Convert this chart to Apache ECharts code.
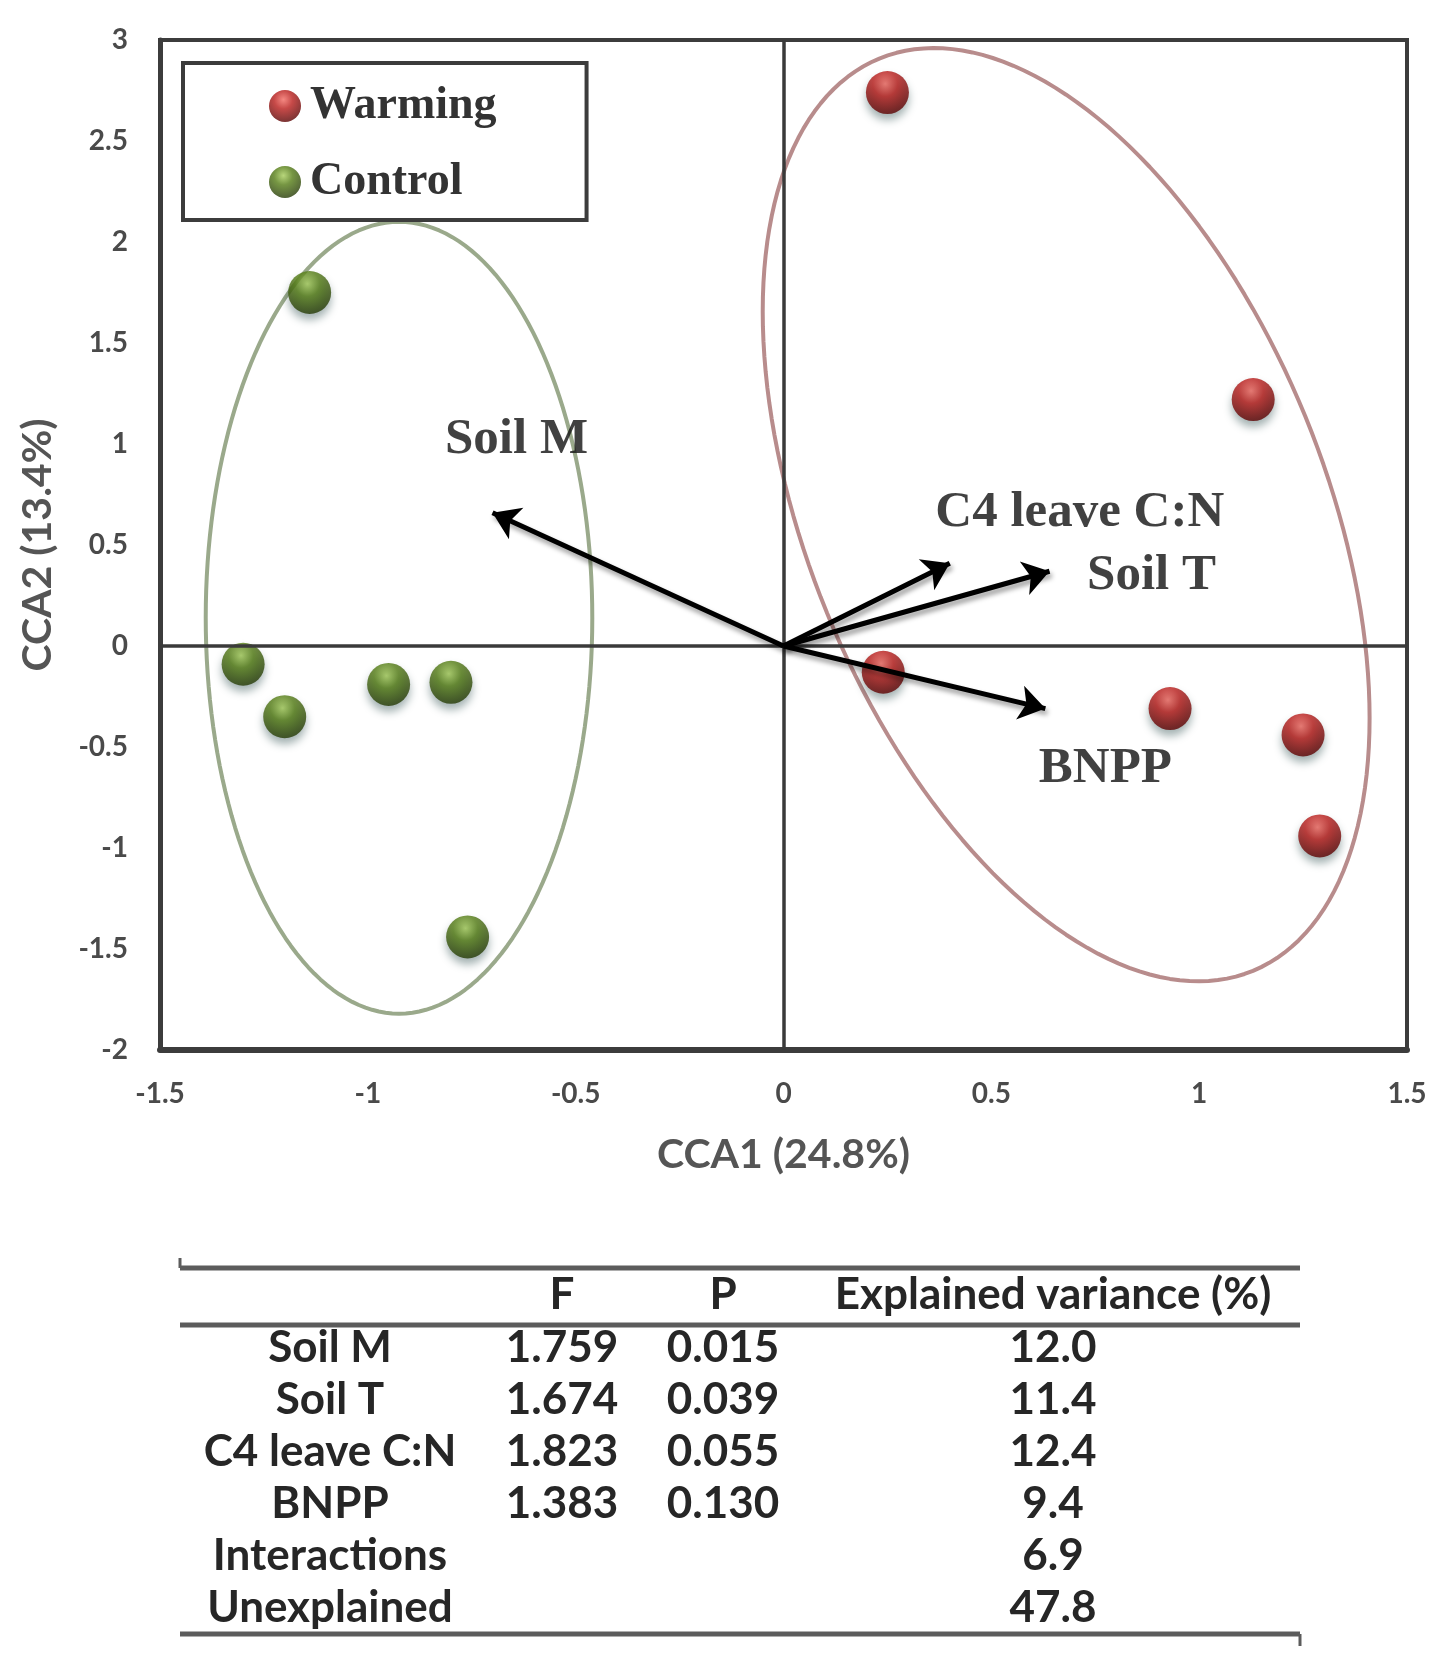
<!DOCTYPE html>
<html>
<head>
<meta charset="utf-8">
<title>CCA ordination</title>
<script src="https://cdn.jsdelivr.net/npm/echarts@6/dist/echarts.min.js"></script>
<style>
  html, body { margin: 0; padding: 0; background: #fff; }
  #main { width: 1450px; height: 1665px; }
</style>
</head>
<body>
<div id="main"></div>
<script>
// sample scores (CCA1, CCA2)
var warming = [[0.25, 2.74], [1.13, 1.22], [0.24, -0.13], [0.93, -0.31], [1.25, -0.44], [1.29, -0.94]];
var control = [[-1.14, 1.75], [-1.30, -0.09], [-1.20, -0.35], [-0.95, -0.19], [-0.80, -0.18], [-0.76, -1.44]];

// environmental vectors
var envNames = ['Soil M', 'C4 leave C:N', 'Soil T', 'BNPP'];
var envX = [-0.70, 0.40, 0.64, 0.63];
var envY = [0.66, 0.41, 0.37, -0.31];

// group ellipses: centre x, centre y, half width, half height, phase
var ellControl = [-0.925, 0.14, 0.465, 1.96, Math.PI / 2];
var ellWarming = [0.68, 0.65, 0.73, 2.31, 1.12];

// table under the plot
var tableHead = ['', 'F', 'P', 'Explained variance (%)'];
var tableNames = ['Soil M', 'Soil T', 'C4 leave C:N', 'BNPP', 'Interactions', 'Unexplained'];
var tableF = ['1.759', '1.674', '1.823', '1.383', '', ''];
var tableP = ['0.015', '0.039', '0.055', '0.130', '', ''];
var tableVar = ['12.0', '11.4', '12.4', '9.4', '6.9', '47.8'];

function ellipse(p) {
    var pts = [];
    for (var i = 0; i <= 180; i++) {
        var t = i / 180 * Math.PI * 2;
        pts.push([p[0] + p[2] * Math.cos(t), p[1] - p[3] * Math.cos(t + p[4])]);
    }
    return pts;
}

function ball(light, mid, dark) {
    return new echarts.graphic.RadialGradient(0.45, 0.3, 0.72, [
        { offset: 0, color: light },
        { offset: 0.4, color: mid },
        { offset: 1, color: dark }
    ]);
}

// label placement next to each arrow tip (px)
var labelOffset = { 'Soil M': [24, -73], 'C4 leave C:N': [130, -50], 'Soil T': [102, 5], 'BNPP': [60, 60] };

var vecData = envNames.map(function (n, i) {
    return { name: n, value: [envX[i], envY[i]], label: { offset: labelOffset[n] } };
});
var vecLines = envNames.map(function (n, i) {
    return [{ coord: [0, 0] }, { coord: [envX[i], envY[i]] }];
});

var tickFont = { fontFamily: 'Lato', fontWeight: 'bold', fontSize: 28, color: '#4a4a4a' };
var nameFont = { fontFamily: 'Lato', fontWeight: 'bold', fontSize: 41, color: '#555' };

// table graphics
var colX = [330, 562, 723, 1053];
var headY = 1295, rowY0 = 1348, rowStep = 52;
var tFont = 'bold 44px Lato';
var graphics = [];
function hline(y) {
    graphics.push({ type: 'line', shape: { x1: 180, y1: y, x2: 1300, y2: y }, style: { stroke: '#5c5c5c', lineWidth: 5 } });
}
hline(1268); hline(1325); hline(1634);
graphics.push({ type: 'line', shape: { x1: 180, y1: 1258, x2: 180, y2: 1268 }, style: { stroke: '#5c5c5c', lineWidth: 3 } });
graphics.push({ type: 'line', shape: { x1: 1300, y1: 1634, x2: 1300, y2: 1646 }, style: { stroke: '#5c5c5c', lineWidth: 3 } });
tableHead.forEach(function (h, j) {
    graphics.push({ type: 'text', x: colX[j], y: headY, style: { text: h, font: tFont, fill: '#262626', align: 'center', verticalAlign: 'middle' } });
});
tableNames.forEach(function (n, i) {
    var y = rowY0 + i * rowStep;
    [n, tableF[i], tableP[i], tableVar[i]].forEach(function (v, j) {
        graphics.push({ type: 'text', x: colX[j], y: y, style: { text: v, font: tFont, fill: '#262626', align: 'center', verticalAlign: 'middle' } });
    });
});

var chart = echarts.init(document.getElementById('main'));
chart.setOption({
    animation: false,
    backgroundColor: '#fff',
    grid: { left: 160, right: 43, top: 40, height: 1010, show: true, borderColor: '#3c3c3c', borderWidth: 4 },
    legend: {
        data: ['Warming', 'Control'],
        orient: 'vertical',
        left: 183, top: 63,
        padding: [19, 90, 14, 86],
        itemGap: 28,
        itemWidth: 32, itemHeight: 32,
        icon: 'circle',
        borderColor: '#3c3c3c', borderWidth: 4,
        backgroundColor: '#fff',
        textStyle: { fontFamily: 'Liberation Serif', fontWeight: 'bold', fontSize: 46, color: '#333', lineHeight: 48, padding: [0, 0, 0, 4] }
    },
    xAxis: {
        type: 'value', min: -1.5, max: 1.5, interval: 0.5,
        name: 'CCA1 (24.8%)', nameLocation: 'middle', nameGap: 84, nameTextStyle: nameFont,
        axisLine: { show: true, onZero: false, lineStyle: { color: '#3c3c3c', width: 6 } },
        axisTick: { show: false }, splitLine: { show: false },
        axisLabel: Object.assign({ margin: 30 }, tickFont)
    },
    yAxis: {
        type: 'value', min: -2, max: 3, interval: 0.5,
        name: 'CCA2 (13.4%)', nameLocation: 'middle', nameGap: 102, nameTextStyle: nameFont,
        axisLine: { show: true, onZero: false, lineStyle: { color: '#3c3c3c', width: 5 } },
        axisTick: { show: false }, splitLine: { show: false },
        axisLabel: Object.assign({ margin: 32 }, tickFont)
    },
    graphic: graphics,
    series: [
        {
            name: 'ellipseControl', type: 'line', data: ellipse(ellControl), showSymbol: false, silent: true, z: 2,
            lineStyle: { color: '#9aa98b', width: 4 },
            markLine: {
                silent: true, symbol: 'none', label: { show: false },
                lineStyle: { color: '#3a3a3a', width: 3.5, type: 'solid' },
                data: [{ xAxis: 0 }, { yAxis: 0 }]
            }
        },
        {
            name: 'ellipseWarming', type: 'line', data: ellipse(ellWarming), showSymbol: false, silent: true, z: 2,
            lineStyle: { color: '#b88c8c', width: 4 }
        },
        {
            name: 'Warming', type: 'scatter', data: warming, symbolSize: 43, z: 3,
            itemStyle: {
                color: ball('#f26a62', '#b81c1a', '#560000'),
                shadowBlur: 8, shadowOffsetY: 6, shadowColor: 'rgba(0,40,40,0.45)'
            }
        },
        {
            name: 'Control', type: 'scatter', data: control, symbolSize: 43, z: 3,
            itemStyle: {
                color: ball('#a6cc5a', '#547c14', '#223604'),
                shadowBlur: 8, shadowOffsetY: 6, shadowColor: 'rgba(0,40,40,0.45)'
            }
        },
        {
            name: 'vectors', type: 'scatter', data: vecData, symbolSize: 1, z: 5, silent: true,
            itemStyle: { color: 'transparent' },
            label: {
                show: true, position: 'inside', formatter: '{b}',
                fontFamily: 'Liberation Serif', fontWeight: 'bold', fontSize: 51, color: '#111'
            },
            markLine: {
                silent: true, symbol: ['none', 'arrow'], symbolSize: 26, label: { show: false },
                lineStyle: {
                    color: '#000', width: 5, type: 'solid',
                    shadowBlur: 5, shadowOffsetX: 2, shadowOffsetY: 4, shadowColor: 'rgba(0,0,0,0.4)'
                },
                data: vecLines
            }
        }
    ]
});
</script>
</body>
</html>
